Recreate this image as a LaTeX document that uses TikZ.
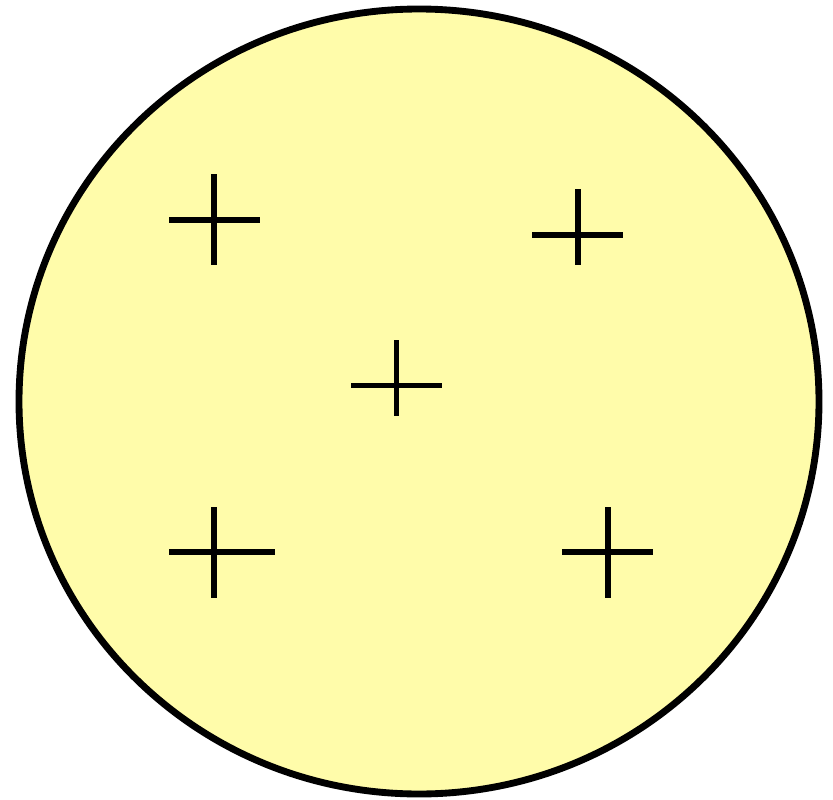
\documentclass[tikz,border=0pt]{standalone}
\usepackage{tikz}
\definecolor{cellfill}{RGB}{255,252,170}

\begin{document}
\begin{tikzpicture}[x=0.01cm,y=-0.01cm,line width=1.7pt]
  \useasboundingbox (0,0) rectangle (833,800);
  \draw[fill=cellfill,line width=1.95pt] (419,401.5) ellipse [x radius=400, y radius=392.5];
  \draw (214,174) -- (214,265);
  \draw (169,220) -- (260,220);
  \draw (578,189) -- (578,265);
  \draw (532,235) -- (623,235);
  \draw (396.5,340) -- (396.5,416);
  \draw (351,385.5) -- (441.5,385.5);
  \draw (214,507) -- (214,598);
  \draw (169,552) -- (275,552);
  \draw (608,507) -- (608,598);
  \draw (562,552) -- (653,552);
\end{tikzpicture}
\end{document}
